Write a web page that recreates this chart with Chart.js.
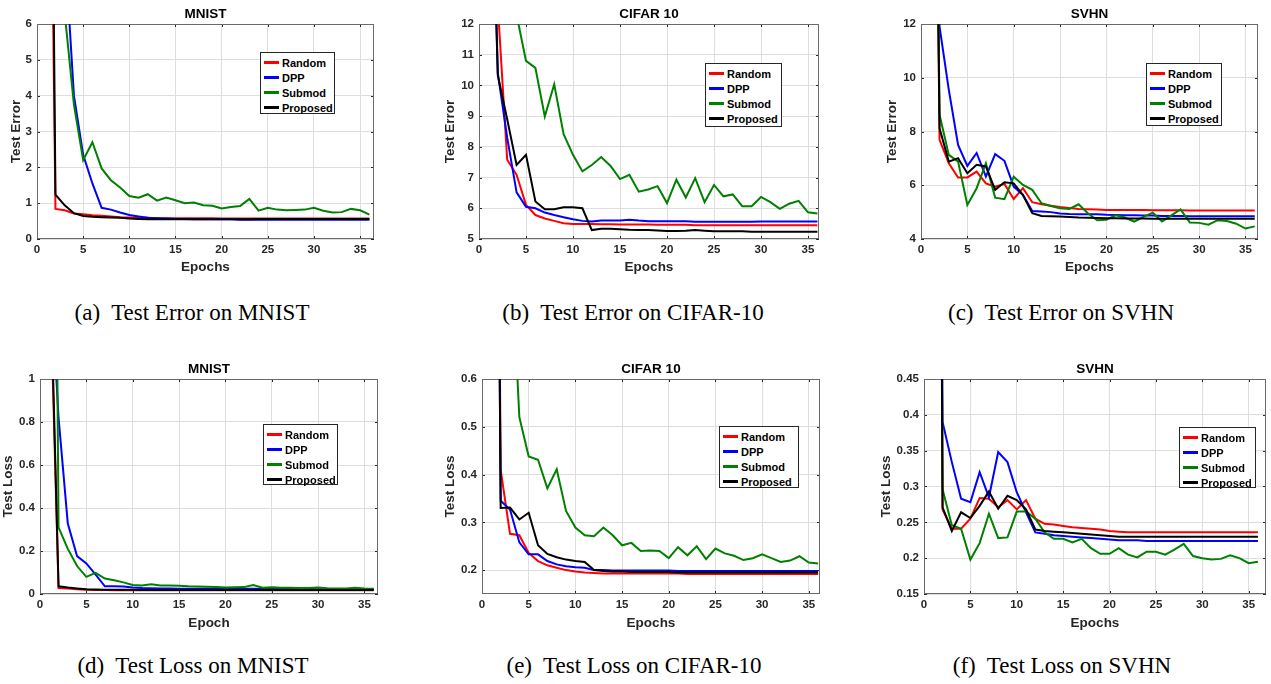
<!DOCTYPE html>
<html>
<head>
<meta charset="utf-8">
<title>Test error and loss curves</title>
<script src="https://cdn.jsdelivr.net/npm/chart.js@4.4.0/dist/chart.umd.min.js"></script>
<style>
  body { margin: 0; background: #fff; width: 1271px; height: 684px; position: relative; overflow: hidden; }
  .panel { position: absolute; }
  .legend { position: absolute; background: #fff; border: 1px solid #262626; box-sizing: border-box; padding-top: 2px;
            font-family: 'Liberation Sans', Arial, sans-serif; }
  .legend .item { display: flex; align-items: center; height: 15px; font-weight: bold; font-size: 11px; color: #000; }
  .legend .swatch { width: 15px; height: 3px; margin-left: 3px; margin-right: 3px; }
  .caption { position: absolute; width: 400px; text-align: center; white-space: pre; color: #000;
             font-family: 'Liberation Serif', 'Times New Roman', serif; font-size: 23px; line-height: 24px; }
</style>
</head>
<body>
<script>
// epochs on the x axis
const epochs = [1, 2, 3, 4, 5, 6, 7, 8, 9, 10, 11, 12, 13, 14, 15, 16, 17, 18,
                19, 20, 21, 22, 23, 24, 25, 26, 27, 28, 29, 30, 31, 32, 33, 34, 35, 36];
const seriesNames = ['Random', 'DPP', 'Submod', 'Proposed'];
const seriesColors = ['#ff0000', '#0000ff', '#008000', '#000000'];

// (a) MNIST test error
const mnistErrRandom = [22, 0.84, 0.80, 0.71, 0.69, 0.66, 0.65, 0.63, 0.61, 0.60,
  0.59, 0.59, 0.58, 0.58, 0.58, 0.58, 0.58, 0.58, 0.58, 0.57,
  0.57, 0.57, 0.57, 0.57, 0.57, 0.57, 0.57, 0.57, 0.57, 0.57,
  0.57, 0.57, 0.57, 0.57, 0.57, 0.57];
const mnistErrDpp = [30, 15, 8.2, 4.0, 2.35, 1.55, 0.87, 0.82, 0.74, 0.67,
  0.63, 0.59, 0.58, 0.57, 0.56, 0.56, 0.55, 0.55, 0.55, 0.55,
  0.55, 0.54, 0.54, 0.54, 0.54, 0.54, 0.54, 0.54, 0.54, 0.54,
  0.54, 0.54, 0.54, 0.54, 0.54, 0.54];
const mnistErrSubmod = [30, 12, 6.3, 3.75, 2.2, 2.7, 1.97, 1.64, 1.44, 1.2,
  1.15, 1.25, 1.07, 1.16, 1.08, 1.0, 1.02, 0.94, 0.93, 0.85,
  0.89, 0.92, 1.12, 0.79, 0.87, 0.82, 0.8, 0.81, 0.82, 0.87,
  0.79, 0.74, 0.75, 0.84, 0.8, 0.68];
const mnistErrProposed = [29, 1.24, 0.94, 0.72, 0.64, 0.62, 0.61, 0.60, 0.59, 0.57,
  0.56, 0.55, 0.55, 0.55, 0.55, 0.55, 0.55, 0.55, 0.55, 0.55,
  0.55, 0.55, 0.55, 0.56, 0.56, 0.56, 0.56, 0.56, 0.56, 0.56,
  0.56, 0.56, 0.56, 0.56, 0.56, 0.56];

// (b) CIFAR 10 test error
const cifarErrRandom = [40, 12.6, 7.58, 7.09, 6.11, 5.78, 5.67, 5.59, 5.51, 5.49,
  5.49, 5.49, 5.48, 5.48, 5.47, 5.47, 5.47, 5.47, 5.46, 5.46,
  5.46, 5.46, 5.45, 5.45, 5.45, 5.45, 5.45, 5.45, 5.45, 5.45,
  5.45, 5.45, 5.45, 5.45, 5.45, 5.45];
const cifarErrDpp = [22, 10.4, 8.3, 6.52, 6.05, 6.0, 5.86, 5.78, 5.71, 5.64,
  5.59, 5.57, 5.6, 5.6, 5.6, 5.63, 5.6, 5.58, 5.58, 5.58,
  5.58, 5.58, 5.56, 5.56, 5.56, 5.56, 5.56, 5.56, 5.56, 5.57,
  5.57, 5.57, 5.57, 5.57, 5.57, 5.57];
const cifarErrSubmod = [30, 20, 14, 12.3, 10.8, 10.57, 8.99, 10.04, 8.41, 7.74,
  7.2, 7.41, 7.67, 7.38, 6.95, 7.09, 6.54, 6.61, 6.72, 6.17,
  6.93, 6.35, 6.98, 6.2, 6.76, 6.39, 6.45, 6.07, 6.07, 6.37,
  6.2, 5.98, 6.15, 6.24, 5.87, 5.83];
const cifarErrProposed = [21, 10.33, 8.9, 7.41, 7.74, 6.22, 5.97, 5.97, 6.03, 6.03,
  6.0, 5.29, 5.33, 5.33, 5.32, 5.3, 5.29, 5.29, 5.28, 5.26,
  5.26, 5.27, 5.29, 5.27, 5.25, 5.25, 5.25, 5.25, 5.24, 5.24,
  5.24, 5.24, 5.24, 5.24, 5.24, 5.24];

// (c) SVHN test error
const svhnErrRandom = [40, 7.69, 6.82, 6.29, 6.29, 6.51, 6.07, 5.95, 6.05, 5.49,
  5.89, 5.37, 5.29, 5.24, 5.19, 5.15, 5.12, 5.11, 5.1, 5.08,
  5.08, 5.08, 5.08, 5.08, 5.07, 5.07, 5.07, 5.07, 5.06, 5.06,
  5.06, 5.06, 5.06, 5.06, 5.06, 5.06];
const svhnErrDpp = [40, 11.9, 9.55, 7.5, 6.72, 7.2, 6.32, 7.16, 6.91, 5.95,
  5.64, 5.04, 5.02, 5.0, 4.95, 4.93, 4.92, 4.92, 4.92, 4.9,
  4.89, 4.88, 4.88, 4.87, 4.87, 4.86, 4.86, 4.86, 4.85, 4.85,
  4.85, 4.85, 4.85, 4.85, 4.85, 4.85];
const svhnErrSubmod = [40, 8.62, 7.13, 6.88, 5.27, 5.89, 6.82, 5.54, 5.48, 6.32,
  6.01, 5.83, 5.33, 5.23, 5.14, 5.12, 5.29, 4.96, 4.7, 4.72,
  4.88, 4.8, 4.65, 4.82, 4.98, 4.65, 4.88, 5.1, 4.61, 4.6,
  4.53, 4.7, 4.67, 4.57, 4.39, 4.47];
const svhnErrProposed = [40, 8.12, 6.88, 7.01, 6.45, 6.76, 6.7, 5.83, 6.11, 6.07,
  5.64, 4.96, 4.86, 4.85, 4.84, 4.82, 4.8, 4.79, 4.78, 4.77,
  4.77, 4.76, 4.76, 4.76, 4.75, 4.75, 4.75, 4.75, 4.75, 4.75,
  4.75, 4.75, 4.75, 4.75, 4.75, 4.75];

// (d) MNIST test loss
const mnistLossRandom = [1.6, 0.028, 0.025, 0.022, 0.02, 0.019, 0.019, 0.018, 0.018, 0.018,
  0.018, 0.018, 0.018, 0.017, 0.017, 0.017, 0.017, 0.017, 0.017, 0.017,
  0.017, 0.017, 0.017, 0.017, 0.017, 0.017, 0.017, 0.017, 0.017, 0.017,
  0.017, 0.017, 0.017, 0.017, 0.017, 0.017];
const mnistLossDpp = [1.6, 0.82, 0.328, 0.176, 0.142, 0.09, 0.036, 0.036, 0.035, 0.03,
  0.028, 0.027, 0.026, 0.026, 0.025, 0.025, 0.025, 0.025, 0.024, 0.024,
  0.024, 0.024, 0.024, 0.023, 0.023, 0.023, 0.023, 0.023, 0.023, 0.022,
  0.022, 0.022, 0.022, 0.022, 0.022, 0.022];
const mnistLossSubmod = [6, 0.31, 0.21, 0.13, 0.08, 0.098, 0.072, 0.064, 0.054, 0.042,
  0.04, 0.045, 0.039, 0.039, 0.038, 0.036, 0.035, 0.034, 0.032, 0.03,
  0.031, 0.032, 0.042, 0.029, 0.031, 0.029, 0.029, 0.028, 0.028, 0.03,
  0.027, 0.026, 0.026, 0.029, 0.026, 0.024];
const mnistLossProposed = [1.7, 0.036, 0.03, 0.026, 0.022, 0.021, 0.02, 0.02, 0.02, 0.02,
  0.019, 0.019, 0.019, 0.019, 0.019, 0.019, 0.019, 0.019, 0.019, 0.019,
  0.019, 0.019, 0.019, 0.019, 0.019, 0.019, 0.019, 0.019, 0.019, 0.019,
  0.019, 0.019, 0.019, 0.019, 0.019, 0.019];

// (e) CIFAR 10 test loss
const cifarLossRandom = [3, 0.41, 0.276, 0.273, 0.236, 0.219, 0.21, 0.205, 0.2, 0.197,
  0.195, 0.194, 0.193, 0.193, 0.193, 0.193, 0.193, 0.193, 0.193, 0.193,
  0.193, 0.192, 0.192, 0.192, 0.192, 0.192, 0.192, 0.192, 0.192, 0.192,
  0.192, 0.192, 0.192, 0.192, 0.192, 0.192];
const cifarLossDpp = [3, 0.345, 0.327, 0.258, 0.233, 0.233, 0.219, 0.212, 0.208, 0.206,
  0.205, 0.2, 0.2, 0.199, 0.199, 0.199, 0.199, 0.199, 0.199, 0.199,
  0.198, 0.198, 0.198, 0.198, 0.198, 0.198, 0.198, 0.198, 0.198, 0.198,
  0.198, 0.198, 0.198, 0.198, 0.198, 0.198];
const cifarLossSubmod = [3, 1.5, 0.92, 0.52, 0.438, 0.431, 0.371, 0.411, 0.324, 0.289,
  0.273, 0.271, 0.289, 0.273, 0.252, 0.257, 0.24, 0.241, 0.24, 0.225,
  0.248, 0.231, 0.25, 0.223, 0.245, 0.235, 0.23, 0.221, 0.225, 0.233,
  0.225, 0.217, 0.22, 0.229, 0.216, 0.214];
const cifarLossProposed = [3, 0.33, 0.331, 0.306, 0.32, 0.252, 0.234, 0.227, 0.222, 0.219,
  0.217, 0.2, 0.198, 0.197, 0.197, 0.196, 0.196, 0.196, 0.196, 0.196,
  0.195, 0.195, 0.195, 0.195, 0.195, 0.195, 0.195, 0.195, 0.195, 0.195,
  0.195, 0.195, 0.195, 0.195, 0.195, 0.195];

// (f) SVHN test loss
const svhnLossRandom = [3, 0.268, 0.241, 0.241, 0.255, 0.284, 0.283, 0.271, 0.281, 0.268,
  0.281, 0.255, 0.248, 0.247, 0.245, 0.243, 0.242, 0.241, 0.24, 0.238,
  0.237, 0.236, 0.236, 0.236, 0.236, 0.236, 0.236, 0.236, 0.236, 0.236,
  0.236, 0.236, 0.236, 0.236, 0.236, 0.236];
const svhnLossDpp = [3, 0.39, 0.334, 0.283, 0.278, 0.32, 0.285, 0.348, 0.334, 0.292,
  0.264, 0.236, 0.234, 0.232, 0.231, 0.23, 0.229, 0.228, 0.227, 0.226,
  0.225, 0.225, 0.225, 0.224, 0.224, 0.224, 0.224, 0.224, 0.224, 0.224,
  0.224, 0.224, 0.224, 0.224, 0.224, 0.224];
const svhnLossSubmod = [3, 0.296, 0.246, 0.241, 0.198, 0.221, 0.262, 0.228, 0.229, 0.265,
  0.265, 0.255, 0.236, 0.227, 0.227, 0.222, 0.227, 0.214, 0.206, 0.206,
  0.214, 0.205, 0.201, 0.209, 0.209, 0.205, 0.212, 0.22, 0.203, 0.2,
  0.198, 0.199, 0.204, 0.2, 0.193, 0.195];
const svhnLossProposed = [3, 0.271, 0.238, 0.264, 0.256, 0.273, 0.293, 0.269, 0.287, 0.281,
  0.268, 0.24, 0.238, 0.237, 0.236, 0.235, 0.234, 0.233, 0.232, 0.231,
  0.23, 0.23, 0.23, 0.23, 0.23, 0.23, 0.23, 0.23, 0.23, 0.23,
  0.23, 0.23, 0.23, 0.23, 0.23, 0.23];

const FONT = "'Liberation Sans', Arial, sans-serif";
const CANVAS_H = 273;

const panels = [
  { title: 'MNIST', yTitle: 'Test Error', xTitle: 'Epochs', yMin: 0, yMax: 6, yStep: 1,
    series: [mnistErrRandom, mnistErrDpp, mnistErrSubmod, mnistErrProposed], caption: '(a)  Test Error on MNIST',
    left: 0, top: 4, w: 375, yW: 37, xMax: 36.5, yPad: 7.9, xPad: 1.5, legend: [260, 52, 75, 62], cap: [192, 301] },
  { title: 'CIFAR 10', yTitle: 'Test Error', xTitle: 'Epochs', yMin: 5, yMax: 12, yStep: 1,
    series: [cifarErrRandom, cifarErrDpp, cifarErrSubmod, cifarErrProposed], caption: '(b)  Test Error on CIFAR-10',
    left: 439, top: 4, w: 381, yW: 40, xMax: 36.17, yPad: 3.6, xPad: 1.5, legend: [705, 63, 77, 64], cap: [633, 301] },
  { title: 'SVHN', yTitle: 'Test Error', xTitle: 'Epochs', yMin: 4, yMax: 12, yStep: 2,
    series: [svhnErrRandom, svhnErrDpp, svhnErrSubmod, svhnErrProposed], caption: '(c)  Test Error on SVHN',
    left: 881, top: 4, w: 378, yW: 40, xMax: 36.35, yPad: 3.6, xPad: 1.5, legend: [1146, 63, 76, 63], cap: [1061, 301] },
  { title: 'MNIST', yTitle: 'Test Loss', xTitle: 'Epoch', yMin: 0, yMax: 1, yStep: 0.2,
    series: [mnistLossRandom, mnistLossDpp, mnistLossSubmod, mnistLossProposed], caption: '(d)  Test Loss on MNIST',
    left: 0, top: 359, w: 379, yW: 40, xMax: 36.46, yPad: 0.3, xPad: 0.5, legend: [263, 424, 75, 61], cap: [193, 654] },
  { title: 'CIFAR 10', yTitle: 'Test Loss', xTitle: 'Epochs', yMin: 0.15, yMax: 0.6, yStep: 0.1,
    series: [cifarLossRandom, cifarLossDpp, cifarLossSubmod, cifarLossProposed], caption: '(e)  Test Loss on CIFAR-10',
    left: 438, top: 359, w: 383, yW: 44, xMax: 36.2, yPad: 3.9, xPad: 0.5, legend: [719, 426, 80, 62], cap: [634, 654] },
  { title: 'SVHN', yTitle: 'Test Loss', xTitle: 'Epochs', yMin: 0.15, yMax: 0.45, yStep: 0.05,
    series: [svhnLossRandom, svhnLossDpp, svhnLossSubmod, svhnLossProposed], caption: '(f)  Test Loss on SVHN',
    left: 876, top: 359, w: 391, yW: 48, xMax: 36.87, yPad: 2.6, xPad: 0.5, legend: [1179, 427, 77, 61], cap: [1062, 654] }
];

// MATLAB style box with inward tick marks on all four sides
const boxPlugin = {
  id: 'box',
  beforeDatasetsDraw(chart) {
    const { ctx, chartArea: a, scales: { x, y } } = chart;
    ctx.save();
    ctx.lineWidth = 1;
    ctx.strokeStyle = '#262626';
    ctx.beginPath();
    x.ticks.forEach(t => {
      const px = Math.round(x.getPixelForValue(t.value)) + 0.5;
      ctx.moveTo(px, a.bottom); ctx.lineTo(px, a.bottom - 3);
      ctx.moveTo(px, a.top); ctx.lineTo(px, a.top + 3);
    });
    y.ticks.forEach(t => {
      const py = Math.round(y.getPixelForValue(t.value)) + 0.5;
      ctx.moveTo(a.left, py); ctx.lineTo(a.left + 3, py);
      ctx.moveTo(a.right, py); ctx.lineTo(a.right - 3, py);
    });
    ctx.stroke();
    ctx.strokeStyle = '#6a6a6a';
    ctx.strokeRect(Math.round(a.left) + 0.5, Math.round(a.top) + 0.5,
                   Math.round(a.width) - 1, Math.round(a.height) - 1);
    ctx.restore();
  }
};

function makeChart(p) {
  const wrap = document.createElement('div');
  wrap.className = 'panel';
  wrap.style.left = p.left + 'px';
  wrap.style.top = p.top + 'px';
  const cv = document.createElement('canvas');
  cv.width = p.w; cv.height = CANVAS_H;
  cv.style.width = p.w + 'px'; cv.style.height = CANVAS_H + 'px';
  wrap.appendChild(cv);
  document.body.appendChild(wrap);

  const tickFont = { family: FONT, size: 11.5, weight: 'bold' };
  const titleFont = { family: FONT, size: 13.5, weight: 'bold' };

  new Chart(cv, {
    type: 'line',
    data: {
      labels: epochs,
      datasets: p.series.map((s, i) => ({
        label: seriesNames[i],
        data: s,
        borderColor: seriesColors[i],
        backgroundColor: seriesColors[i],
        borderWidth: 2,
        pointRadius: 0,
        tension: 0,
        order: 4 - i
      }))
    },
    options: {
      responsive: false,
      animation: false,
      devicePixelRatio: 1,
      layout: { padding: { left: 0, right: 1, top: 0, bottom: 0 } },
      plugins: {
        legend: { display: false },
        tooltip: { enabled: false },
        title: {
          display: true, text: p.title, fullSize: false, color: '#000',
          font: titleFont, padding: { top: 1.9, bottom: 1.9 }
        }
      },
      scales: {
        x: {
          type: 'linear', min: 0, max: p.xMax,
          afterFit: s => { s.height = 38; },
          ticks: { stepSize: 5, includeBounds: false, padding: 4, color: '#262626', font: tickFont,
                   maxRotation: 0, autoSkip: false },
          grid: { color: '#dedede', drawTicks: false },
          border: { display: false },
          title: { display: true, text: p.xTitle, color: '#262626', font: titleFont,
                   padding: { top: 0, bottom: p.xPad } }
        },
        y: {
          min: p.yMin, max: p.yMax,
          afterFit: s => { s.width = p.yW; },
          ticks: { stepSize: p.yStep, includeBounds: false, padding: 5, color: '#262626', font: tickFont,
                   callback: v => String(+v.toFixed(3)) },
          grid: { color: '#dedede', drawTicks: false },
          border: { display: false },
          title: { display: true, text: p.yTitle, color: '#262626', font: titleFont,
                   padding: { top: p.yPad, bottom: 0 } }
        }
      }
    },
    plugins: [boxPlugin]
  });

  // legend box inside the axes
  const lg = document.createElement('div');
  lg.className = 'legend';
  lg.style.left = p.legend[0] + 'px'; lg.style.top = p.legend[1] + 'px';
  lg.style.width = p.legend[2] + 'px'; lg.style.height = p.legend[3] + 'px';
  seriesNames.forEach((name, i) => {
    const it = document.createElement('div');
    it.className = 'item';
    const sw = document.createElement('span');
    sw.className = 'swatch';
    sw.style.background = seriesColors[i];
    const tx = document.createElement('span');
    tx.textContent = name;
    it.appendChild(sw); it.appendChild(tx);
    lg.appendChild(it);
  });
  document.body.appendChild(lg);

  const cap = document.createElement('div');
  cap.className = 'caption';
  cap.textContent = p.caption;
  cap.style.left = (p.cap[0] - 200) + 'px';
  cap.style.top = p.cap[1] + 'px';
  document.body.appendChild(cap);
}

panels.forEach(makeChart);
</script>
</body>
</html>
